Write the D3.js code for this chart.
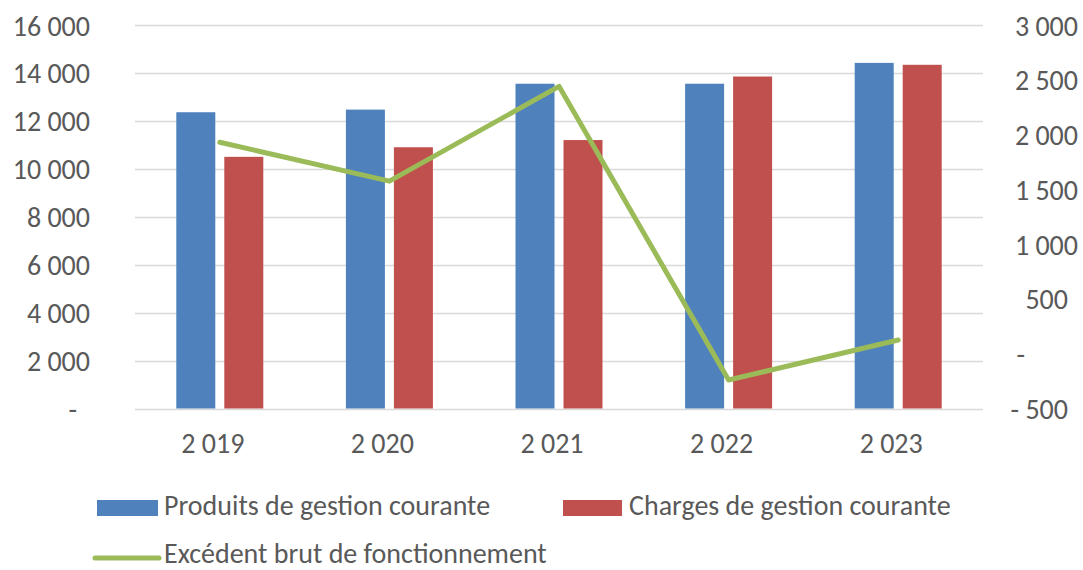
<!DOCTYPE html>
<html>
<head>
<meta charset="utf-8">
<script src="https://cdn.jsdelivr.net/npm/d3@7"></script>
<style>
  html, body { margin: 0; padding: 0; background: #fff; }
  svg text { font-family: Carlito, "Liberation Sans", Arial, sans-serif; fill: #595959; }
</style>
</head>
<body>
<svg id="chart" width="1083" height="570"></svg>
<script>
const categories = ["2019", "2020", "2021", "2022", "2023"];
const categoryLabels = ["2 019", "2 020", "2 021", "2 022", "2 023"];
const produits = [12360, 12470, 13550, 13550, 14420];
const charges = [10500, 10900, 11200, 13850, 14340];
const excedent = [1930, 1575, 2440, -240, 125];
const leftTicks = [0, 2000, 4000, 6000, 8000, 10000, 12000, 14000, 16000];
const rightTicks = [-500, 0, 500, 1000, 1500, 2000, 2500, 3000];
const seriesNames = ["Produits de gestion courante", "Charges de gestion courante", "Excédent brut de fonctionnement"];
const colors = ["#4F81BD", "#C0504D", "#9BBB59"];

const svg = d3.select("#chart");
const plotLeft = 135, plotRight = 983, plotTop = 25, plotBottom = 408.5;
const fs = "28px";

const x = d3.scaleBand().domain(categories).range([plotLeft, plotRight]).padding(0);
const yL = d3.scaleLinear().domain([0, 16000]).range([plotBottom, plotTop]);
const yR = d3.scaleLinear().domain([-500, 3000]).range([plotBottom, plotTop]);

const fmt = v => {
  if (v === 0) return "-";
  const s = Math.abs(v).toString().replace(/\B(?=(\d{3})+(?!\d))/g, " ");
  return (v < 0 ? "- " : "") + s;
};

// gridlines
svg.append("g").selectAll("line").data(leftTicks).join("line")
  .attr("x1", plotLeft).attr("x2", plotRight)
  .attr("y1", d => Math.round(yL(d)) + 0.5).attr("y2", d => Math.round(yL(d)) + 0.5)
  .attr("stroke", "#d9d9d9").attr("stroke-width", 1.3);

// left tick labels
svg.append("g").selectAll("text").data(leftTicks).join("text")
  .attr("x", d => d === 0 ? 77 : 90)
  .attr("y", d => yL(d) + 1)
  .attr("dominant-baseline", "central")
  .attr("text-anchor", "end")
  .style("font-size", fs)
  .text(fmt);

// right tick labels
svg.append("g").selectAll("text").data(rightTicks).join("text")
  .attr("x", d => d === 0 ? 1025 : (Math.abs(d) >= 1000 ? 1078 : 1068))
  .attr("y", d => yR(d) + 1)
  .attr("dominant-baseline", "central")
  .attr("text-anchor", "end")
  .style("font-size", fs)
  .text(fmt);

// bars
const barW = 39, gap = 9;
const g = svg.append("g");
g.selectAll("rect.p").data(categories).join("rect")
  .attr("class", "p")
  .attr("x", d => x(d) + x.bandwidth() / 2 - gap / 2 - barW)
  .attr("y", (d, i) => yL(produits[i]))
  .attr("width", barW)
  .attr("height", (d, i) => yL(0) - yL(produits[i]))
  .attr("fill", colors[0]);
g.selectAll("rect.c").data(categories).join("rect")
  .attr("class", "c")
  .attr("x", d => x(d) + x.bandwidth() / 2 + gap / 2)
  .attr("y", (d, i) => yL(charges[i]))
  .attr("width", barW)
  .attr("height", (d, i) => yL(0) - yL(charges[i]))
  .attr("fill", colors[1]);

// line
const line = d3.line()
  .x((d, i) => x(categories[i]) + x.bandwidth() / 2)
  .y(d => yR(d));
svg.append("path").datum(excedent)
  .attr("d", line)
  .attr("fill", "none")
  .attr("stroke", colors[2])
  .attr("stroke-width", 5)
  .attr("stroke-linejoin", "round")
  .attr("stroke-linecap", "round");

// x labels
svg.append("g").selectAll("text").data(categories).join("text")
  .attr("x", d => x(d) + x.bandwidth() / 2 - 7)
  .attr("y", 453)
  .attr("text-anchor", "middle")
  .style("font-size", fs)
  .text((d, i) => categoryLabels[i]);

// legend
const leg = svg.append("g");
leg.append("rect").attr("x", 97).attr("y", 500).attr("width", 61).attr("height", 16).attr("fill", colors[0]);
leg.append("text").attr("x", 164).attr("y", 515).style("font-size", fs).text(seriesNames[0]);
leg.append("rect").attr("x", 563).attr("y", 500).attr("width", 59).attr("height", 16).attr("fill", colors[1]);
leg.append("text").attr("x", 629).attr("y", 515).style("font-size", fs).text(seriesNames[1]);
leg.append("line").attr("x1", 95).attr("x2", 159).attr("y1", 558).attr("y2", 558)
  .attr("stroke", colors[2]).attr("stroke-width", 5).attr("stroke-linecap", "round");
leg.append("text").attr("x", 164).attr("y", 563).style("font-size", fs).text(seriesNames[2]);
</script>
</body>
</html>
